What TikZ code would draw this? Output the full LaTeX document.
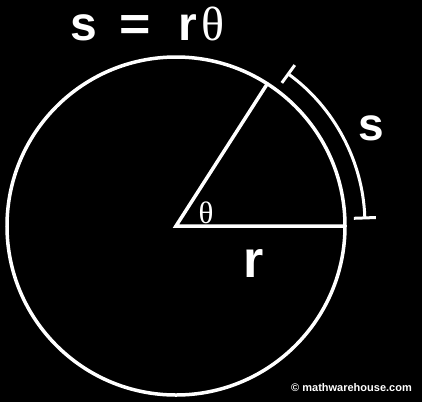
\documentclass[tikz,border=0pt]{standalone}
\usepackage{fontspec}
\setmainfont{Liberation Sans}
\newfontfamily\serifth{Liberation Serif}
\usetikzlibrary{arrows.meta,calc}
\begin{document}
\begin{tikzpicture}[x=1pt,y=-1pt,
  wline/.style={draw=white,line width=3.5pt},
  bigtxt/.style={text=white,inner sep=0pt,font=\bfseries\fontsize{46}{46}\selectfont},
  thtxt/.style={text=white,inner sep=0pt,font=\serifth\fontsize{31}{31}\selectfont}]
\fill[black] (0,0) rectangle (422,402);
\useasboundingbox (0,0) rectangle (422,402);
\coordinate (c) at (176,226);
\draw[wline] (c) circle[radius=169];
\coordinate (p) at ($(c)+(-57.3:169)$);
\coordinate (q) at ($(c)+(0:169)$);
\draw[wline,line cap=round] (q) -- (c) -- (p);
\coordinate (s0) at ($(c)+(-2:189)$);
\draw[draw=white,line width=3pt,{Bar[width=22pt,line width=3pt]}-{Bar[width=22pt,line width=3pt]}]
  (s0) arc[start angle=-2,end angle=-54,radius=189];
\node[bigtxt,anchor=base west,font=\bfseries\fontsize{48}{48}\selectfont] (title) at (70,40) {s\hspace{23pt}\scalebox{1.12}[1]{=}\hspace{27pt}r\hspace{5pt}{\mdseries\serifth θ}};
\node[bigtxt,anchor=base] (slab) at (371,140) {s};
\node[bigtxt,anchor=base,font=\bfseries\fontsize{52}{52}\selectfont] (rlab) at (254,277) {r};
\node[thtxt,anchor=base] (th) at (206,223) {θ};
\node[text=white,inner sep=0pt,anchor=base east,font=\bfseries\fontsize{11}{11}\selectfont] (copy) at (412,391) {© mathwarehouse.com};
\end{tikzpicture}
\end{document}
